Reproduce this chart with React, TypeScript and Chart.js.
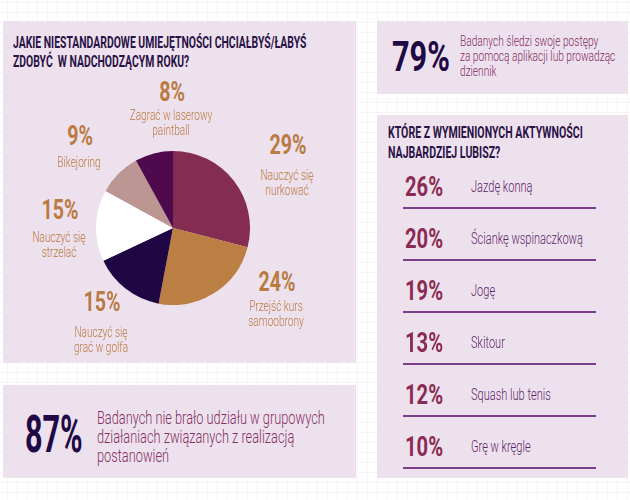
import React, { useEffect, useRef } from "react";
import { Chart, registerables } from "chart.js";
Chart.register(...registerables);

// ---------- data ----------
const pieTitle = ["JAKIE NIESTANDARDOWE UMIEJĘTNOŚCI CHCIAŁBYŚ/ŁABYŚ", "ZDOBYĆ  W NADCHODZĄCYM ROKU?"];
const pieLabels = [
  ["Nauczyć się", "nurkować"],
  ["Przejść kurs", "samoobrony"],
  ["Nauczyć się", "grać w golfa"],
  ["Nauczyć się", "strzelać"],
  ["Bikejoring"],
  ["Zagrać w laserowy", "paintball"],
];
const pieValues = [29, 24, 15, 15, 9, 8];

const listTitle = ["KTÓRE Z WYMIENIONYCH AKTYWNOŚCI", "NAJBARDZIEJ LUBISZ?"];
const activityLabels = ["Jazdę konną", "Ściankę wspinaczkową", "Jogę", "Skitour", "Squash lub tenis", "Grę w kręgle"];
const activityValues = [26, 20, 19, 13, 12, 10];

const statValues = [79, 87];
const statTexts = [
  ["Badanych śledzi swoje postępy", "za pomocą aplikacji lub prowadząc", "dziennik"],
  ["Badanych nie brało udziału w grupowych", "działaniach związanych z realizacją", "postanowień"],
];

// ---------- styles / layout ----------
const FONT = "Roboto, 'Liberation Sans', 'DejaVu Sans', sans-serif";
const pieColors = ["#842d50", "#bb7f44", "#1f0744", "#ffffff", "#bb9692", "#4f0a4e"];
const PANEL = "#eee1ee";
const TITLE = "#2a1246";
const ORANGE = "#b97b42";
const WINE = "#8a2b52";
const PURPLE_TXT = "#5c2769";
const STAT_TXT = "#822f5f";
const NAVY = "#200944";

// label anchor positions (percent centre x,y ; first text line centre y)
const pieLabelPos = [
  { x: 288, y: 145, ty: 175 },
  { x: 277, y: 282, ty: 306 },
  { x: 102, y: 302, ty: 332 },
  { x: 60, y: 210, ty: 237 },
  { x: 80, y: 136, ty: 162 },
  { x: 172, y: 91.5, ty: 115.5 },
];

type TxtProps = {
  x: number; y: number; text: string | string[]; size: number; weight?: number;
  color: string; sx?: number; center?: boolean; lh?: number;
};
// y = centre of the first line
function Txt({ x, y, text, size, weight = 300, color, sx = 0.7, center = false, lh }: TxtProps) {
  const lines = Array.isArray(text) ? text : [text];
  const L = lh ?? size;
  return (
    <div
      style={{
        position: "absolute", left: x, top: y - L / 2, whiteSpace: "pre", fontFamily: FONT,
        fontSize: size, fontWeight: weight, color, lineHeight: `${L}px`,
        textAlign: center ? "center" : "left",
        transformOrigin: "0 0",
        transform: `scaleX(${sx}) translateX(${center ? "-50%" : "0"})`,
      }}
    >
      {lines.join("\n")}
    </div>
  );
}

function Panel({ l, t, r, b }: { l: number; t: number; r: number; b: number }) {
  return <div style={{ position: "absolute", left: l, top: t, width: r - l, height: b - t, background: PANEL }} />;
}

export default function App() {
  const ref = useRef<HTMLCanvasElement>(null);
  useEffect(() => {
    if (!ref.current) return;
    const chart = new Chart(ref.current, {
      type: "pie",
      data: {
        labels: pieLabels.map((l) => l.join(" ")),
        datasets: [{ data: pieValues, backgroundColor: pieColors, borderWidth: 0, hoverOffset: 0 }],
      },
      options: {
        responsive: false,
        animation: false,
        devicePixelRatio: 1,
        layout: { padding: 0 },
        plugins: { legend: { display: false }, tooltip: { enabled: false } },
        events: [],
      },
    });
    return () => chart.destroy();
  }, []);

  const listY0 = 187;
  const listStep = 52;

  return (
    <div
      style={{
        position: "absolute", left: 0, top: 0, width: 630, height: 500, overflow: "hidden",
        background: "#ffffff",
        backgroundImage:
          "linear-gradient(#f6f4f6 1px, transparent 1px), linear-gradient(90deg, #f6f4f6 1px, transparent 1px)",
        backgroundSize: "10px 10px",
        backgroundPosition: "7px 2px",
      }}
    >
      <Panel l={3} t={21} r={356} b={363} />
      <Panel l={377} t={21} r={628} b={94} />
      <Panel l={377} t={115} r={628} b={478} />
      <Panel l={3} t={385} r={356} b={478} />

      {/* pie panel */}
      <Txt x={13} y={43.5} text={pieTitle} size={16.5} lh={18.5} weight={700} color={TITLE} sx={0.63} />
      <canvas ref={ref} width={154} height={154} style={{ position: "absolute", left: 96, top: 151, width: 154, height: 154 }} />
      {pieValues.map((v, i) => (
        <React.Fragment key={"pl" + i}>
          <Txt x={pieLabelPos[i].x} y={pieLabelPos[i].y} text={`${v}%`} size={28} lh={22} weight={700} color={ORANGE} sx={0.7} center />
          <Txt x={pieLabelPos[i].x - 1} y={pieLabelPos[i].ty} text={pieLabels[i]} size={14} lh={15} color={ORANGE} sx={0.72} center />
        </React.Fragment>
      ))}

      {/* 79% */}
      <Txt x={392} y={57} text={`${statValues[0]}%`} size={42} lh={34} weight={700} color={NAVY} sx={0.73} />
      <Txt x={460} y={41} text={statTexts[0]} size={14.5} lh={15} color={STAT_TXT} sx={0.7} />

      {/* list */}
      <Txt x={388} y={133} text={listTitle} size={16} lh={19.5} weight={700} color={TITLE} sx={0.66} />
      {activityValues.map((v, i) => (
        <React.Fragment key={"a" + i}>
          <Txt x={405} y={listY0 + i * listStep} text={`${v}%`} size={28} lh={22} weight={700} color={WINE} sx={0.72} />
          <Txt x={471} y={listY0 + i * listStep} text={activityLabels[i]} size={16} color={PURPLE_TXT} sx={0.69} />
          <div style={{ position: "absolute", left: 403, top: listY0 + 20 + i * listStep, width: 193, height: 2, background: "#7d3f8a" }} />
        </React.Fragment>
      ))}

      {/* 87% */}
      <Txt x={25} y={435} text={`${statValues[1]}%`} size={51} lh={40} weight={700} color={NAVY} sx={0.6} />
      <Txt x={97} y={417} text={statTexts[1]} size={18} lh={19} color={STAT_TXT} sx={0.71} />
    </div>
  );
}
